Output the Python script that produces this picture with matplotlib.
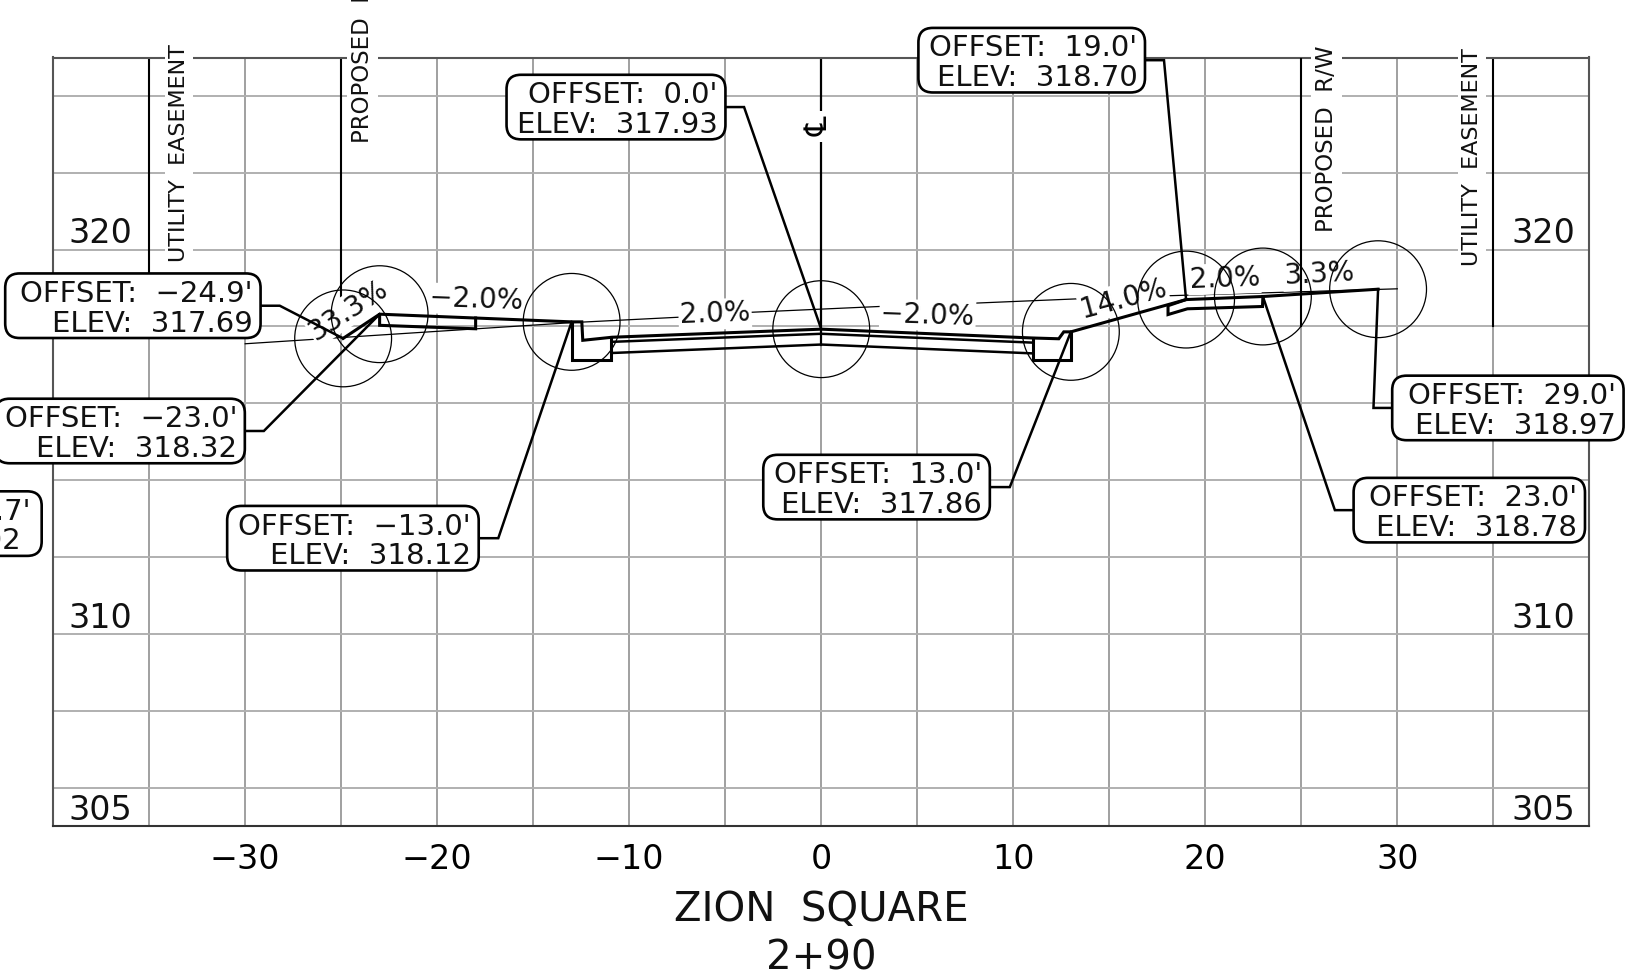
import matplotlib
matplotlib.use('Agg')
import matplotlib.pyplot as plt
from matplotlib.patches import FancyBboxPatch

# grade points (offset, elevation) that get a circle and a callout
point_offset = [-24.9, -23.0, -13.0, 0.0, 13.0, 19.0, 23.0, 29.0]
point_elev = [317.69, 318.32, 318.12, 317.93, 317.86, 318.70, 318.78, 318.97]

# callouts: centre of box, width of box, where the leader bends
box_x = [-35.85, -36.52, -24.39, -10.69, 2.88, 10.96, 33.75, 35.76]
box_y = [318.54, 315.28, 312.49, 323.71, 313.82, 324.93, 313.22, 315.88]
box_w = [13.3, 13.0, 13.1, 11.4, 11.8, 11.8, 12.05, 12.05]
bend_x = [-28.2, -29.03, -16.82, -4.02, 9.82, 17.85, 26.75, 28.76]

# finished surface and curb
surface_x = [-24.9, -23.0, -13.0, -12.47, -12.42, -10.89, 0.0, 11.02, 12.37, 12.63, 13.0, 19.0, 23.0, 29.0]
surface_y = [317.69, 318.32, 318.12, 318.12, 317.64, 317.72, 317.93, 317.70, 317.68, 317.86, 317.86, 318.70, 318.78, 318.97]
left_walk_x = [-23.0, -23.0, -18.0, -18.0]
left_walk_y = [318.31, 318.03, 317.94, 318.22]
right_walk_x = [19.0, 18.06, 18.06, 19.07, 22.98, 23.0]
right_walk_y = [318.70, 318.54, 318.31, 318.46, 318.52, 318.78]
left_gutter_x = [-13.0, -13.0, -10.94, -10.94]
left_gutter_y = [318.12, 317.14, 317.14, 317.72]
right_gutter_x = [11.02, 11.02, 13.0, 13.0]
right_gutter_y = [317.70, 317.14, 317.14, 317.86]
pave_x = [-10.9, 0.0, 11.0]
pave_mid = [317.60, 317.81, 317.58]
pave_low = [317.31, 317.53, 317.30]

# existing ground
ground_x = [-30.0, -13.0, -7.45, -3.63, 3.02, 8.12, 13.38, 18.1, 30.0]
ground_y = [317.55, 318.10, 318.24, 318.37, 318.52, 318.61, 318.72, 318.80, 318.98]

# slope labels
slope_text = ['33.3%', '\u22122.0%', '2.0%', '\u22122.0%', '14.0%', '2.0%', '3.3%']
slope_x = [-24.6, -17.96, -5.53, 5.54, 15.73, 21.0, 25.95]
slope_y = [318.43, 318.70, 318.32, 318.29, 318.73, 319.24, 319.35]
slope_rot = [33, -2, 2, -2, 15, 2, 3]

# vertical reference lines: x, bottom elevation
ref_x = [-35, -25, 25, 35]
ref_bottom = [318.9, 318.0, 318.0, 318.0]
ref_text = ['UTILITY  EASEMENT', 'PROPOSED  R/W', 'PROPOSED  R/W', 'UTILITY  EASEMENT']
ref_text_x = [-33.45, -23.9, 26.3, 33.9]
ref_text_y = [322.5, 325.21, 322.89, 322.42]
ref_size = [16, 16.5, 16.5, 16]

elev_labels = [320, 310, 305]
x_major = [-30, -20, -10, 0, 10, 20, 30]
x_minor = [-35, -25, -15, -5, 5, 15, 25, 35]
y_grid = [306, 308, 310, 312, 314, 316, 318, 320, 322, 324]

plt.rcParams['font.family'] = ['DejaVu Sans']

W, H = 1633, 974
fig = plt.figure(figsize=(W / 100, H / 100), dpi=100)
ax = fig.add_axes([53.2 / W, 1 - 826 / H, (1589.3 - 53.2) / W, (826 - 57.5) / H])
ax.set_xlim(-40, 40)
ax.set_ylim(305, 325)

# grid
ax.set_xticks(x_major)
ax.set_xticklabels([str(v).replace('-', '\u2212') for v in x_major], fontsize=24)
ax.set_xticks(x_minor, minor=True)
ax.set_yticks(y_grid)
ax.set_yticklabels([])
ax.tick_params(which='both', length=0)
ax.tick_params(axis='x', pad=12)
ax.set_axisbelow(True)
ax.grid(True, which='both', axis='x', color='#a0a0a0', lw=1.4)
ax.grid(True, which='major', axis='y', color='#b0b0b0', lw=1.4)
for name, spine in ax.spines.items():
    spine.set_color('#333333' if name == 'bottom' else '#555555')
    spine.set_linewidth(1.5)

# elevation labels, both sides
for v in elev_labels:
    ax.text(-37.55, v + 0.41, str(v), fontsize=24, ha='center', va='center', color='#111111')
    ax.text(37.6, v + 0.41, str(v), fontsize=24, ha='center', va='center', color='#111111')

# reference lines and their text (white box knocks out the grid)
for i in range(len(ref_x)):
    z = 5 if ref_x[i] == 25 else 2.5
    ax.plot([ref_x[i], ref_x[i]], [325, ref_bottom[i]], color='black', lw=1.5, zorder=z)
    ax.text(ref_text_x[i], ref_text_y[i], ref_text[i], rotation=90, fontsize=ref_size[i], ha='center', va='center',
            color='#111111', zorder=3, bbox=dict(fc='white', ec='none', pad=3))

# centerline
ax.plot([0, 0], [325, 317.53], color='black', lw=1.6, zorder=2.5)
ax.text(-0.1, 323.2, '\u2104', rotation=90, fontsize=22, ha='center', va='center', zorder=3,
        bbox=dict(fc='white', ec='none', pad=4))

# existing ground
ax.plot(ground_x, ground_y, color='black', lw=0.9, zorder=2.5)

# slope labels
for i in range(len(slope_text)):
    ax.text(slope_x[i], slope_y[i], slope_text[i], rotation=slope_rot[i], rotation_mode='anchor', fontsize=20,
            ha='center', va='center', color='#111111', zorder=3, bbox=dict(fc='white', ec='none', pad=1))

# roadway section
thick = dict(color='black', lw=2.2, zorder=4, solid_joinstyle='miter')
ax.plot(surface_x, surface_y, **thick)
ax.plot(left_walk_x, left_walk_y, **thick)
ax.plot(right_walk_x, right_walk_y, **thick)
ax.plot(left_gutter_x, left_gutter_y, **thick)
ax.plot(right_gutter_x, right_gutter_y, **thick)
ax.plot(pave_x, pave_mid, color='black', lw=1.8, zorder=4)
ax.plot(pave_x, pave_low, color='black', lw=1.8, zorder=4)

# circles at grade points
ax.scatter(point_offset, point_elev, s=4860, facecolors='none', edgecolors='black', linewidths=0.9, zorder=5)

# callouts
for i in range(len(point_offset)):
    left = box_x[i] - box_w[i] / 2
    right = box_x[i] + box_w[i] / 2
    start = left if point_offset[i] < left else right
    ax.plot([start, bend_x[i], point_offset[i]], [box_y[i], box_y[i], point_elev[i]], color='black', lw=1.8,
            zorder=4, solid_joinstyle='miter')
    box = FancyBboxPatch((left, box_y[i] - 0.84), box_w[i], 1.68, boxstyle='round,pad=0,rounding_size=0.75',
                         mutation_aspect=0.5, fc='white', ec='black', lw=1.9, zorder=6, clip_on=False)
    ax.add_patch(box)
    off = f'{point_offset[i]:.1f}'.replace('-', '\u2212')
    ax.text(right - 0.4, box_y[i] - 0.08, f"OFFSET:  {off}'\nELEV:  {point_elev[i]:.2f}", fontsize=21, ha='right',
            va='center', multialignment='right', linespacing=1.07, color='#111111', zorder=7)

# callout cut off at the left edge of the sheet
box = FancyBboxPatch((-53.6, 312.03), 13.0, 1.68, boxstyle='round,pad=0,rounding_size=0.75', mutation_aspect=0.5,
                     fc='white', ec='black', lw=1.9, zorder=6, clip_on=False)
ax.add_patch(box)
ax.text(-41.2, 312.79, "OFFSET:  \u221227.7'\nELEV:  317.02 ", fontsize=21, ha='right', va='center',
        multialignment='right', linespacing=1.07, color='#111111', zorder=7)

# title
fig.text(821 / W, 1 - 910 / H, 'ZION  SQUARE', fontsize=29, ha='center', va='center', color='#111111')
fig.text(821 / W, 1 - 958 / H, '2+90', fontsize=29, ha='center', va='center', color='#111111')

fig.savefig('out.png', dpi=100)
